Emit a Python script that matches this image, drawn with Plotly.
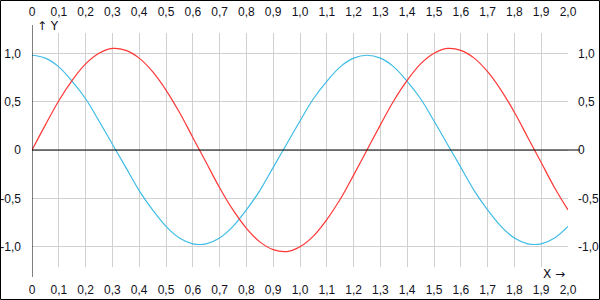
import plotly.graph_objects as go

x_vals = [round(i * 0.05, 2) for i in range(41)]
red_vals = [0, 0.26, 0.51, 0.72, 0.89, 1.00, 1.05, 1.03, 0.95, 0.81, 0.62, 0.39, 0.13,
            -0.13, -0.39, -0.62, -0.81, -0.95, -1.03, -1.05, -1.00, -0.89, -0.72, -0.51, -0.26,
            0, 0.26, 0.51, 0.72, 0.89, 1.00, 1.05, 1.03, 0.95, 0.81, 0.62, 0.39, 0.13,
            -0.13, -0.39, -0.62]
cyan_vals = [0.98, 0.95, 0.86, 0.71, 0.53, 0.30, 0.06, -0.18, -0.42, -0.62, -0.79, -0.91, -0.97,
             -0.97, -0.91, -0.79, -0.62, -0.42, -0.18, 0.06, 0.30, 0.53, 0.71, 0.86, 0.95,
             0.98, 0.95, 0.86, 0.71, 0.53, 0.30, 0.06, -0.18, -0.42, -0.62, -0.79, -0.91, -0.97,
             -0.97, -0.91, -0.79]

x_tick_vals = [round(i * 0.1, 1) for i in range(21)]
x_tick_text = ["0", "0,1", "0,2", "0,3", "0,4", "0,5", "0,6", "0,7", "0,8", "0,9", "1,0",
               "1,1", "1,2", "1,3", "1,4", "1,5", "1,6", "1,7", "1,8", "1,9", "2,0"]
y_tick_vals = [-1.0, -0.5, 0, 0.5, 1.0]
y_tick_text = ["-1,0", "-0,5", "0", "0,5", "1,0"]

L, R, T, B = 32, 32, 33, 33
W, H = 600, 300
PW, PH = W - L - R, H - T - B

def px(v):
    return (v - L) / PW

def py(v):
    return (H - B - v) / PH

font = dict(family="Liberation Sans, Arial, sans-serif", size=12, color="#111122")
arrow_font = dict(family="DejaVu Sans, sans-serif", size=12, color="#111122")

fig = go.Figure()
fig.add_trace(go.Scatter(x=x_vals, y=cyan_vals, mode="lines", line=dict(color="#3fbce6", width=1.2, shape="spline"), showlegend=False))
fig.add_trace(go.Scatter(x=x_vals, y=red_vals, mode="lines", line=dict(color="#ff3636", width=1.2, shape="spline"), showlegend=False))

axis_common = dict(showline=False, zeroline=False, ticks="", tickfont=font, automargin=False)

fig.update_layout(
    width=W, height=H,
    margin=dict(l=L, r=R, t=T, b=B, autoexpand=False),
    paper_bgcolor="white", plot_bgcolor="white",
    xaxis=dict(range=[0, 2], tickvals=x_tick_vals, ticktext=x_tick_text, showgrid=True,
               gridcolor="#d0d0d0", gridwidth=1, ticklabelstandoff=14, **axis_common),
    xaxis2=dict(range=[0, 2], overlaying="x", side="top", tickvals=x_tick_vals, ticktext=x_tick_text,
                showgrid=False, ticklabelstandoff=14, **axis_common),
    yaxis=dict(range=[-1.21, 1.21], tickvals=y_tick_vals, ticktext=y_tick_text, showgrid=True,
               gridcolor="#d0d0d0", gridwidth=1, ticklabelstandoff=10, **axis_common),
    yaxis2=dict(range=[-1.21, 1.21], overlaying="y", side="right", tickvals=y_tick_vals, ticktext=y_tick_text,
                showgrid=False, ticklabelstandoff=9, **axis_common),
    showlegend=False,
)

fig.add_trace(go.Scatter(x=[0, 2], y=[0, 0], xaxis="x2", yaxis="y2", mode="lines",
                         line=dict(width=0), hoverinfo="skip", showlegend=False))

shapes = [
    dict(type="line", xref="paper", yref="y", x0=0, x1=px(580), y0=0, y1=0,
         line=dict(color="black", width=1), layer="above"),
    dict(type="line", xref="x", yref="paper", x0=0, x1=0, y0=py(277), y1=py(25),
         line=dict(color="black", width=1), layer="above"),
    dict(type="rect", xref="paper", yref="paper", x0=px(0.5), x1=px(599.5), y0=py(299.5), y1=py(0.5),
         line=dict(color="black", width=1), fillcolor="rgba(0,0,0,0)", layer="above"),
]
fig.update_layout(shapes=shapes)

fig.add_annotation(text="↑ Y", xref="paper", yref="paper", x=px(35), y=py(26), xanchor="left",
                   yanchor="middle", showarrow=False, font=arrow_font)
fig.add_annotation(text="X →", xref="paper", yref="paper", x=px(567), y=py(274), xanchor="right",
                   yanchor="middle", showarrow=False, font=arrow_font)

fig.write_html("out.html")
